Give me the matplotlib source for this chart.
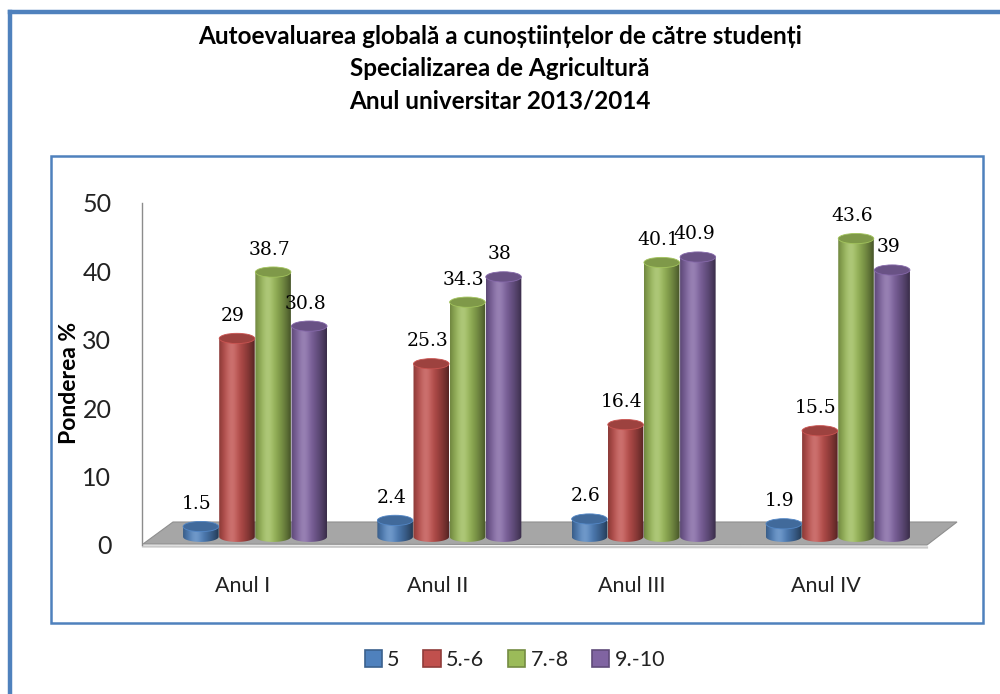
import numpy as np
import matplotlib
matplotlib.use("Agg")
import matplotlib.pyplot as plt
from matplotlib.patches import Ellipse, Polygon, Rectangle, PathPatch
from matplotlib.path import Path
from matplotlib.lines import Line2D
from matplotlib.colors import to_rgb

plt.rcParams['font.family'] = ['Lato', 'DejaVu Sans']

categories = ["Anul I", "Anul II", "Anul III", "Anul IV"]
series = ["5", "5.-6", "7.-8", "9.-10"]
v_5 = [1.5, 2.4, 2.6, 1.9]
v_56 = [29, 25.3, 16.4, 15.5]
v_78 = [38.7, 34.3, 40.1, 43.6]
v_910 = [30.8, 38, 40.9, 39]
values = [v_5, v_56, v_78, v_910]
colors = ["#4f81bd", "#c0504d", "#9bbb59", "#8064a2"]
title_lines = ["Autoevaluarea globală a cunoștiințelor de către studenți",
               "Specializarea de Agricultură",
               "Anul universitar 2013/2014"]

W, H = 1000, 694
fig = plt.figure(figsize=(W / 100, H / 100), dpi=100)
fig.patch.set_facecolor('white')

def fx(px):
    return px / W

def fy(py):
    return 1 - py / H

# frames
BORDER = "#4f81bd"
fig.add_artist(Line2D([fx(10), fx(10)], [fy(12), fy(700)], color=BORDER, lw=3.2,
                      transform=fig.transFigure))
fig.add_artist(Line2D([fx(10), fx(1005)], [fy(12), fy(12)], color=BORDER, lw=3.2,
                      transform=fig.transFigure))
fig.add_artist(Rectangle((fx(51), fy(623)), fx(983 - 51), (623 - 156) / H,
                         fill=False, ec=BORDER, lw=1.8, transform=fig.transFigure))

for i, line in enumerate(title_lines):
    fig.text(0.5, fy(36 + 32.5 * i), line, ha='center', va='center',
             fontsize=17.5, fontweight='bold', color='black')

# axes: 0 at px 545, 50 at px 203; category i at px 243 + 194.3*i
ax = fig.add_axes([fx(142), fy(545), fx(957 - 142), (545 - 203) / H])
ax.set_xlim((142 - 243) / 194.3, (957 - 243) / 194.3)
ax.set_ylim(0, 50)
ax.patch.set_alpha(0)
for s in ['top', 'right', 'bottom']:
    ax.spines[s].set_visible(False)
ax.spines['left'].set_color('#8c8c8c')
ax.spines['left'].set_linewidth(1.0)
ax.set_yticks(range(0, 51, 10))
ax.tick_params(axis='y', length=0, pad=22, labelsize=18, labelcolor='#222222')
ax.set_xticks(range(len(categories)))
ax.set_xticklabels(categories, fontsize=15.5, color='#222222')
ax.tick_params(axis='x', length=0, pad=22)
fig.text(fx(69), fy(383), "Ponderea %", rotation=90, ha='center', va='center',
         fontsize=16.5, fontweight='bold', color='black')

ppu = 6.84  # px per y unit
def dy(py):
    return (545 - py) / ppu

def dx(px):
    return (px - 243) / 194.3

# floor
floor = Polygon([(dx(143), dy(544)), (dx(173), dy(522)), (dx(957), dy(522)),
                 (dx(927), dy(545))], closed=True, fc='#a6a6a6', ec='#8f8f8f',
                lw=0.8, zorder=1, clip_on=False)
ax.add_patch(floor)
ax.add_line(Line2D([dx(143), dx(927)], [dy(546.5), dy(547.5)], color='#c9c9c9',
                   lw=1.6, zorder=1, clip_on=False))

base = 1.2
bw = 0.183
step = 0.186
eh = 1.5
t = np.linspace(0, 1, 80)
prof = np.where(t < 0.38, 1 - 0.28 * ((0.38 - t) / 0.38) ** 2,
                1 - 0.55 * ((t - 0.38) / 0.62) ** 1.6)

def grad_img(c):
    rgb = np.array(to_rgb(c))
    hl = np.clip(0.18 * np.exp(-((t - 0.35) / 0.18) ** 2), 0, 1)
    img = rgb[None, :] * prof[:, None] + hl[:, None] * (1 - rgb[None, :])
    return np.clip(img, 0, 1)[None, :, :]

for gi in range(len(categories)):
    for si in range(len(series)):
        v = values[si][gi]
        xc = gi + 0.062 + (si - 1.5) * step
        x0, x1 = xc - bw / 2, xc + bw / 2
        top = base + v
        th = np.linspace(np.pi, 2 * np.pi, 40)
        arc = np.column_stack([xc + bw / 2 * np.cos(th), base + eh / 2 * np.sin(th)])
        verts = np.vstack([[[x0, top]], arc, [[x1, top]], [[x0, top]]])
        path = Path(verts, [Path.MOVETO] + [Path.LINETO] * (len(verts) - 2) + [Path.CLOSEPOLY])
        clip = PathPatch(path, fc='none', ec='none', transform=ax.transData)
        ax.add_patch(clip)
        im = ax.imshow(grad_img(colors[si]), extent=[x0, x1, base - eh / 2, top],
                       aspect='auto', interpolation='bilinear', zorder=2 + gi * 4 + si,
                       origin='lower')
        im.set_clip_path(clip)
        rgb = np.array(to_rgb(colors[si]))
        ax.add_patch(Ellipse((xc, top), bw, eh, fc=rgb * 0.82, ec=np.clip(rgb * 1.05, 0, 1),
                             lw=0.6, zorder=2.5 + gi * 4 + si))
        lab = f"{v:g}"
        ax.text(xc - 0.02, top + 3.3, lab, ha='center', va='center', fontsize=13.5,
                family='DejaVu Serif', color='black', zorder=40)

# legend
handles = [Rectangle((0, 0), 1, 1, fc=c, ec=tuple(np.array(to_rgb(c)) * 0.75), lw=1.2)
           for c in colors]
fig.legend(handles, series, loc='center', bbox_to_anchor=(fx(515), fy(660)), ncol=4,
           frameon=False, fontsize=15.5, handlelength=0.8, handleheight=0.8,
           handletextpad=0.25, columnspacing=1.1, labelcolor='#222222')

fig.savefig("out.png", dpi=100, facecolor='white')
